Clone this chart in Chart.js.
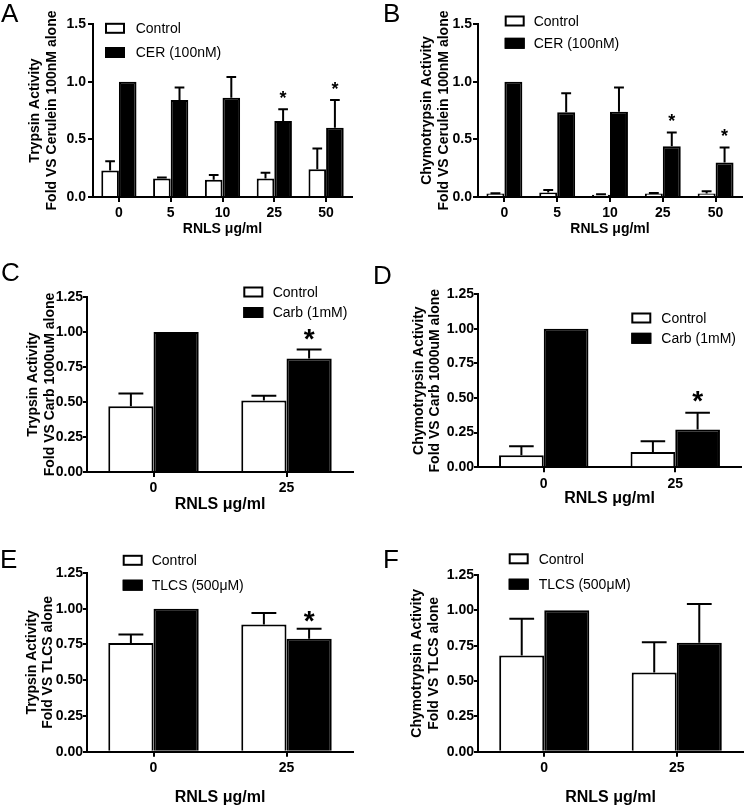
<!DOCTYPE html>
<html><head><meta charset="utf-8">
<script src="https://cdn.jsdelivr.net/npm/chart.js@4"></script>
<style>
html,body{margin:0;padding:0;background:#fff;}
body{width:745px;height:806px;position:relative;overflow:hidden;font-family:'Liberation Sans',Arial,sans-serif;}
canvas{position:absolute;}
.lbl{position:absolute;font-size:26px;line-height:26px;color:#000;font-family:'Liberation Sans',Arial,sans-serif;z-index:2;}
</style></head><body>
<canvas id="cA"></canvas><canvas id="cB"></canvas>
<canvas id="cC"></canvas><canvas id="cD"></canvas>
<canvas id="cE"></canvas><canvas id="cF"></canvas>
<div class="lbl" style="left:1px;top:0px">A</div>
<div class="lbl" style="left:383px;top:0px">B</div>
<div class="lbl" style="left:1px;top:259px">C</div>
<div class="lbl" style="left:373px;top:262px">D</div>
<div class="lbl" style="left:0px;top:546px">E</div>
<div class="lbl" style="left:383px;top:546px">F</div>
<script>
// ---------------- DATA ----------------
const dosesAB = ['0', '5', '10', '25', '50'];
const dosesCF = ['0', '25'];
const yTicksAB = [0, 0.5, 1.0, 1.5];
const yTickLabelsAB = ['0.0', '0.5', '1.0', '1.5'];
const yTicksCF = [0, 0.25, 0.5, 0.75, 1.0, 1.25];
const yTickLabelsCF = ['0.00', '0.25', '0.50', '0.75', '1.00', '1.25'];
const xTitle = 'RNLS μg/ml';

// A: Trypsin, cerulein
const ctrlA    = [0.23, 0.16, 0.15, 0.16, 0.24];
const ctrlErrA = [0.08, 0.01, 0.04, 0.05, 0.18];
const cerA     = [1.00, 0.84, 0.86, 0.66, 0.60];
const cerErrA  = [0, 0.11, 0.18, 0.10, 0.24];
const sigA     = [false, false, false, true, true];

// B: Chymotrypsin, cerulein
const ctrlB    = [0.03, 0.04, 0.02, 0.03, 0.03];
const ctrlErrB = [0.003, 0.02, 0.003, 0.005, 0.02];
const cerB     = [1.00, 0.735, 0.74, 0.44, 0.30];
const cerErrB  = [0, 0.165, 0.21, 0.12, 0.13];
const sigB     = [false, false, false, true, true];

// C: Trypsin, carbachol
const ctrlC    = [0.47, 0.51];
const ctrlErrC = [0.09, 0.035];
const carbC    = [1.00, 0.81];
const carbErrC = [0, 0.065];
const sigC     = [false, true];

// D: Chymotrypsin, carbachol
const ctrlD    = [0.087, 0.11];
const ctrlErrD = [0.064, 0.078];
const carbD    = [1.00, 0.273];
const carbErrD = [0, 0.12];
const sigD     = [false, true];

// E: Trypsin, TLCS
const ctrlE    = [0.76, 0.89];
const ctrlErrE = [0.06, 0.08];
const tlcsE    = [1.00, 0.79];
const tlcsErrE = [0, 0.07];
const sigE     = [false, true];

// F: Chymotrypsin, TLCS
const ctrlF    = [0.68, 0.56];
const ctrlErrF = [0.26, 0.215];
const tlcsF    = [1.00, 0.77];
const tlcsErrF = [0, 0.275];
const sigF     = [false, false];

// ---------------- LAYOUT / STYLE ----------------
const FONT = "'Liberation Sans', Arial, sans-serif";
Chart.defaults.font.family = FONT;
Chart.defaults.color = '#000';
const Y_TITLE_LH = 1.2, Y_TITLE_SIZE = 14;

const panels = [
  {id:'cA', rect:[0,0,372,262], area:[93,24,352,197], yTitleX:35, xTitleY:229.5, xTitleSize:14, tickLen:5, tickPad:2,
   yTitle:['Trypsin Activity','Fold VS Cerulein 100nM alone'], labels:dosesAB, ticks:yTicksAB, tickLabels:yTickLabelsAB,
   series:[['Control',ctrlA,ctrlErrA,null],['CER (100nM)',cerA,cerErrA,sigA]],
   legend:{x:105,y:28.3,dy:24.2,tx:135.7}, starSize:18, starGap:14.5},
  {id:'cB', rect:[372,0,373,262], area:[478,24,742,197], yTitleX:427, xTitleY:229.5, xTitleSize:14, tickLen:5, tickPad:1,
   yTitle:['Chymotrypsin Activity','Fold VS Cerulein 100nM alone'], labels:dosesAB, ticks:yTicksAB, tickLabels:yTickLabelsAB,
   series:[['Control',ctrlB,ctrlErrB,null],['CER (100nM)',cerB,cerErrB,sigB]],
   legend:{x:504.7,y:21,dy:22.3,tx:533.7}, starSize:18, starGap:15},
  {id:'cC', rect:[0,255,372,275], area:[87,297,353,472], yTitleX:33, xTitleY:504.5, xTitleSize:16, tickLen:4, tickPad:0,
   yTitle:['Trypsin Activity','Fold VS Carb 1000uM alone'], labels:dosesCF, ticks:yTicksCF, tickLabels:yTickLabelsCF,
   series:[['Control',ctrlC,ctrlErrC,null],['Carb (1mM)',carbC,carbErrC,sigC]],
   legend:{x:243.3,y:292,dy:20.5,tx:272.7}, starSize:28, starGap:15},
  {id:'cD', rect:[372,255,373,275], area:[478,294,741,467.3], yTitleX:418.7, xTitleY:499, xTitleSize:16, tickLen:4, tickPad:0,
   yTitle:['Chymotrypsin Activity','Fold VS Carb 1000uM alone'], labels:dosesCF, ticks:yTicksCF, tickLabels:yTickLabelsCF,
   series:[['Control',ctrlD,ctrlErrD,null],['Carb (1mM)',carbD,carbErrD,sigD]],
   legend:{x:631.3,y:318,dy:20.3,tx:661.3}, starSize:28, starGap:16},
  {id:'cE', rect:[0,540,372,266], area:[87,573,353,751.7], yTitleX:31.7, xTitleY:798, xTitleSize:16, tickLen:4, tickPad:0,
   yTitle:['Trypsin Activity','Fold VS TLCS alone'], labels:dosesCF, ticks:yTicksCF, tickLabels:yTickLabelsCF,
   series:[['Control',ctrlE,ctrlErrE,null],['TLCS (500μM)',tlcsE,tlcsErrE,sigE]],
   legend:{x:122.7,y:560.3,dy:24.9,tx:151.7}, starSize:28, starGap:12},
  {id:'cF', rect:[372,540,373,266], area:[478,575,743,751.7], yTitleX:417, xTitleY:798, xTitleSize:16, tickLen:4, tickPad:0,
   yTitle:['Chymotrypsin Activity','Fold VS TLCS alone'], labels:dosesCF, ticks:yTicksCF, tickLabels:yTickLabelsCF,
   series:[['Control',ctrlF,ctrlErrF,null],['TLCS (500μM)',tlcsF,tlcsErrF,sigF]],
   legend:{x:508.7,y:558.8,dy:25.4,tx:538.7}, starSize:28, starGap:12}
];

const FILLS = ['#ffffff', '#000000'];

function extrasPlugin(p) {
  return {
    id: 'extras_' + p.id,
    afterDatasetsDraw(chart) {
      const ctx = chart.ctx, ys = chart.scales.y;
      const [cx, cy] = p.rect;
      ctx.save();
      // error bars and significance marks
      p.series.forEach((s, di) => {
        const meta = chart.getDatasetMeta(di);
        const vals = s[1], errs = s[2], sig = s[3];
        meta.data.forEach((el, i) => {
          const e = errs[i];
          let topY = el.y;
          if (e > 0) {
            const yU = ys.getPixelForValue(vals[i] + e);
            const capW = el.width * 0.55;
            ctx.strokeStyle = '#000'; ctx.lineWidth = 2; ctx.lineCap = 'butt';
            ctx.beginPath();
            ctx.moveTo(el.x, el.y); ctx.lineTo(el.x, yU);
            ctx.moveTo(el.x - capW / 2, yU); ctx.lineTo(el.x + capW / 2, yU);
            ctx.stroke();
            topY = yU;
          }
          if (sig && sig[i]) {
            ctx.font = 'bold ' + p.starSize + 'px ' + FONT;
            ctx.fillStyle = '#000';
            ctx.textAlign = 'center'; ctx.textBaseline = 'alphabetic';
            const m = ctx.measureText('*');
            const asc = m.actualBoundingBoxAscent, desc = m.actualBoundingBoxDescent;
            const centerY = topY - p.starGap;
            ctx.fillText('*', el.x, centerY + (asc - desc) / 2);
          }
        });
      });
      // legend
      const L = p.legend;
      chart.data.datasets.forEach((ds, di) => {
        const rowY = L.y - cy + di * L.dy;
        const bx = L.x - cx, bw = 20, bh = 11;
        ctx.fillStyle = FILLS[di];
        ctx.fillRect(bx, rowY - bh / 2, bw, bh);
        ctx.strokeStyle = '#000'; ctx.lineWidth = 2;
        ctx.strokeRect(bx + 1, rowY - bh / 2 + 1, bw - 2, bh - 2);
        ctx.fillStyle = '#000';
        ctx.font = '14px ' + FONT;
        ctx.textAlign = 'left'; ctx.textBaseline = 'middle';
        ctx.fillText(ds.label, L.tx - cx, rowY + 1);
      });
      ctx.restore();
    }
  };
}

panels.forEach(p => {
  const [cx, cy, cw, ch] = p.rect;
  const [aL, aT, aR, aB] = p.area;
  const cv = document.getElementById(p.id);
  cv.width = cw; cv.height = ch;
  cv.style.left = cx + 'px'; cv.style.top = cy + 'px';
  cv.style.width = cw + 'px'; cv.style.height = ch + 'px';
  const yLH = Y_TITLE_SIZE * Y_TITLE_LH;
  const padLeft = p.yTitleX - yLH / 2 - cx;
  const yW = aL - cx - padLeft;
  const xTLH = p.xTitleSize; // lineHeight 1
  const xH = p.xTitleY + xTLH / 2 - aB;
  const padBottom = Math.max(0, cy + ch - aB - xH);
  const padTop = aT - cy;
  const padRight = cx + cw - aR;

  new Chart(cv, {
    type: 'bar',
    data: {
      labels: p.labels,
      datasets: p.series.map((s, di) => ({
        label: s[0], data: s[1],
        backgroundColor: FILLS[di], borderColor: '#000', borderWidth: 2,
        categoryPercentage: 0.68, barPercentage: 1.0
      }))
    },
    options: {
      responsive: false, animation: false, devicePixelRatio: 1,
      layout: { padding: { left: padLeft, top: padTop, right: padRight, bottom: padBottom } },
      plugins: { legend: { display: false }, tooltip: { enabled: false } },
      scales: {
        x: {
          type: 'category', offset: true,
          grid: { display: true, drawOnChartArea: false, drawTicks: true, tickLength: 5, color: '#000', lineWidth: 2, offset: false },
          border: { display: true, color: '#000', width: 2 },
          ticks: { color: '#000', font: { size: 14, weight: 'bold' }, padding: 3, maxRotation: 0, autoSkip: false },
          title: { display: true, text: xTitle, color: '#000', font: { size: p.xTitleSize, weight: 'bold', lineHeight: 1 }, padding: 0 },
          afterFit: s => { s.height = xH; }
        },
        y: {
          min: 0, max: p.ticks[p.ticks.length - 1],
          afterBuildTicks: s => { s.ticks = p.ticks.map(v => ({ value: v })); },
          grid: { drawOnChartArea: false, drawTicks: true, tickLength: p.tickLen, color: '#000', lineWidth: 2 },
          border: { display: true, color: '#000', width: 2 },
          ticks: { color: '#000', font: { size: 14, weight: 'bold' }, padding: p.tickPad, callback: (v, i) => p.tickLabels[i] },
          title: { display: true, text: p.yTitle, color: '#000', font: { size: Y_TITLE_SIZE, weight: 'bold', lineHeight: Y_TITLE_LH }, padding: 0 },
          afterFit: s => { s.width = yW; }
        }
      }
    },
    plugins: [extrasPlugin(p)]
  });
});
</script>
</body></html>
